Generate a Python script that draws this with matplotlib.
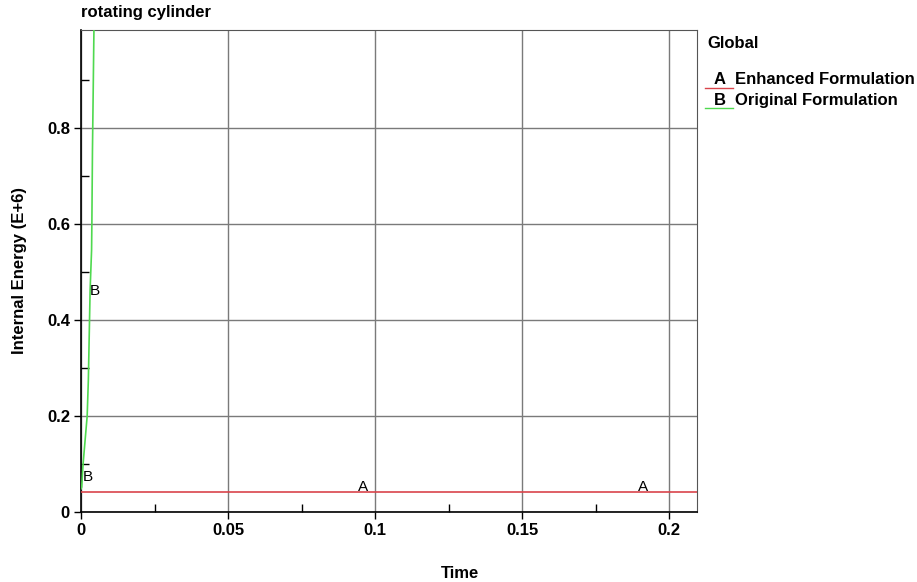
import matplotlib
matplotlib.use("Agg")
import matplotlib.pyplot as plt
from matplotlib.ticker import FixedLocator

plt.rcParams['font.family'] = ['Liberation Sans', 'DejaVu Sans']

# curve A - enhanced formulation (flat)
time_a = [0.0, 0.215]
energy_a = [0.042, 0.042]

# curve B - original formulation (shoots up)
time_b = [0.0, 0.00024, 0.00068, 0.0021, 0.0025, 0.0031, 0.0036, 0.0037, 0.0039, 0.0041, 0.0044, 0.0046]
energy_b = [0.048, 0.052, 0.098, 0.2, 0.275, 0.4625, 0.546, 0.602, 0.754, 0.852, 1.004, 1.05]

# curve label positions
labels_a = [(0.096, 0.052), (0.191, 0.052)]
labels_b = [(0.0022, 0.073), (0.0048, 0.46)]

xticks = [0, 0.05, 0.1, 0.15, 0.2]
xticklabels = ["0", "0.05", "0.1", "0.15", "0.2"]
xminor = [0.025, 0.075, 0.125, 0.175]
yticks = [0, 0.2, 0.4, 0.6, 0.8]
yticklabels = ["0", "0.2", "0.4", "0.6", "0.8"]
yminor = [0.1, 0.3, 0.5, 0.7, 0.9]

red = "#d9444b"
green = "#4fd94f"
fs = 12

fig = plt.figure(figsize=(9.17, 5.82), dpi=100)
ax = fig.add_axes([81/917, 1-512/582, (697-81)/917, (512-30)/582])

ax.plot(time_a, energy_a, color=red, lw=1.2, zorder=3)
ax.plot(time_b, energy_b, color=green, lw=1.2, zorder=3)
for x, y in labels_a:
    ax.text(x, y, "A", ha="center", va="center", fontsize=11, zorder=4)
for x, y in labels_b:
    ax.text(x, y, "B", ha="center", va="center", fontsize=11, zorder=4)

ax.set_xlim(0, 0.2095)
ax.set_ylim(0, 1.004)
ax.set_xticks(xticks)
ax.set_xticklabels(xticklabels, fontweight="bold", fontsize=fs)
ax.set_yticks(yticks)
ax.set_yticklabels(yticklabels, fontweight="bold", fontsize=fs)
ax.xaxis.set_minor_locator(FixedLocator(xminor))
ax.yaxis.set_minor_locator(FixedLocator(yminor))
ax.tick_params(which="major", direction="out", length=5, width=1, color="black", pad=3)
ax.tick_params(which="minor", direction="in", length=6, width=1, color="black")
ax.grid(True, which="major", color="#7a7a7a", lw=1)
ax.set_axisbelow(True)
for s in ["top", "right"]:
    ax.spines[s].set_color("#555555")
for s in ["left", "bottom"]:
    ax.spines[s].set_color("black")
    ax.spines[s].set_linewidth(1.2)

ax.set_ylabel("Internal Energy (E+6)", fontweight="bold", fontsize=fs, labelpad=14)
fig.text(81/917, 1-12/582, "rotating cylinder", fontweight="bold", fontsize=fs, ha="left", va="center")
fig.text(460/917, 1-573/582, "Time", fontweight="bold", fontsize=fs, ha="center", va="center")

# legend drawn by hand like the original
fig.text(707/917, 1-43/582, "Global", fontweight="bold", fontsize=fs, ha="left", va="center")
fig.text(714/917, 1-80/582, "A", fontweight="bold", fontsize=fs, ha="left", va="center")
fig.text(735/917, 1-80/582, "Enhanced Formulation", fontweight="bold", fontsize=fs, ha="left", va="center")
fig.text(714/917, 1-100/582, "B", fontweight="bold", fontsize=fs, ha="left", va="center")
fig.text(735/917, 1-100/582, "Original Formulation", fontweight="bold", fontsize=fs, ha="left", va="center")
fig.add_artist(plt.Line2D([705/917, 733/917], [1-88/582, 1-88/582], color=red, lw=1))
fig.add_artist(plt.Line2D([705/917, 733/917], [1-108/582, 1-108/582], color=green, lw=1))

fig.savefig("out.png", dpi=100)
